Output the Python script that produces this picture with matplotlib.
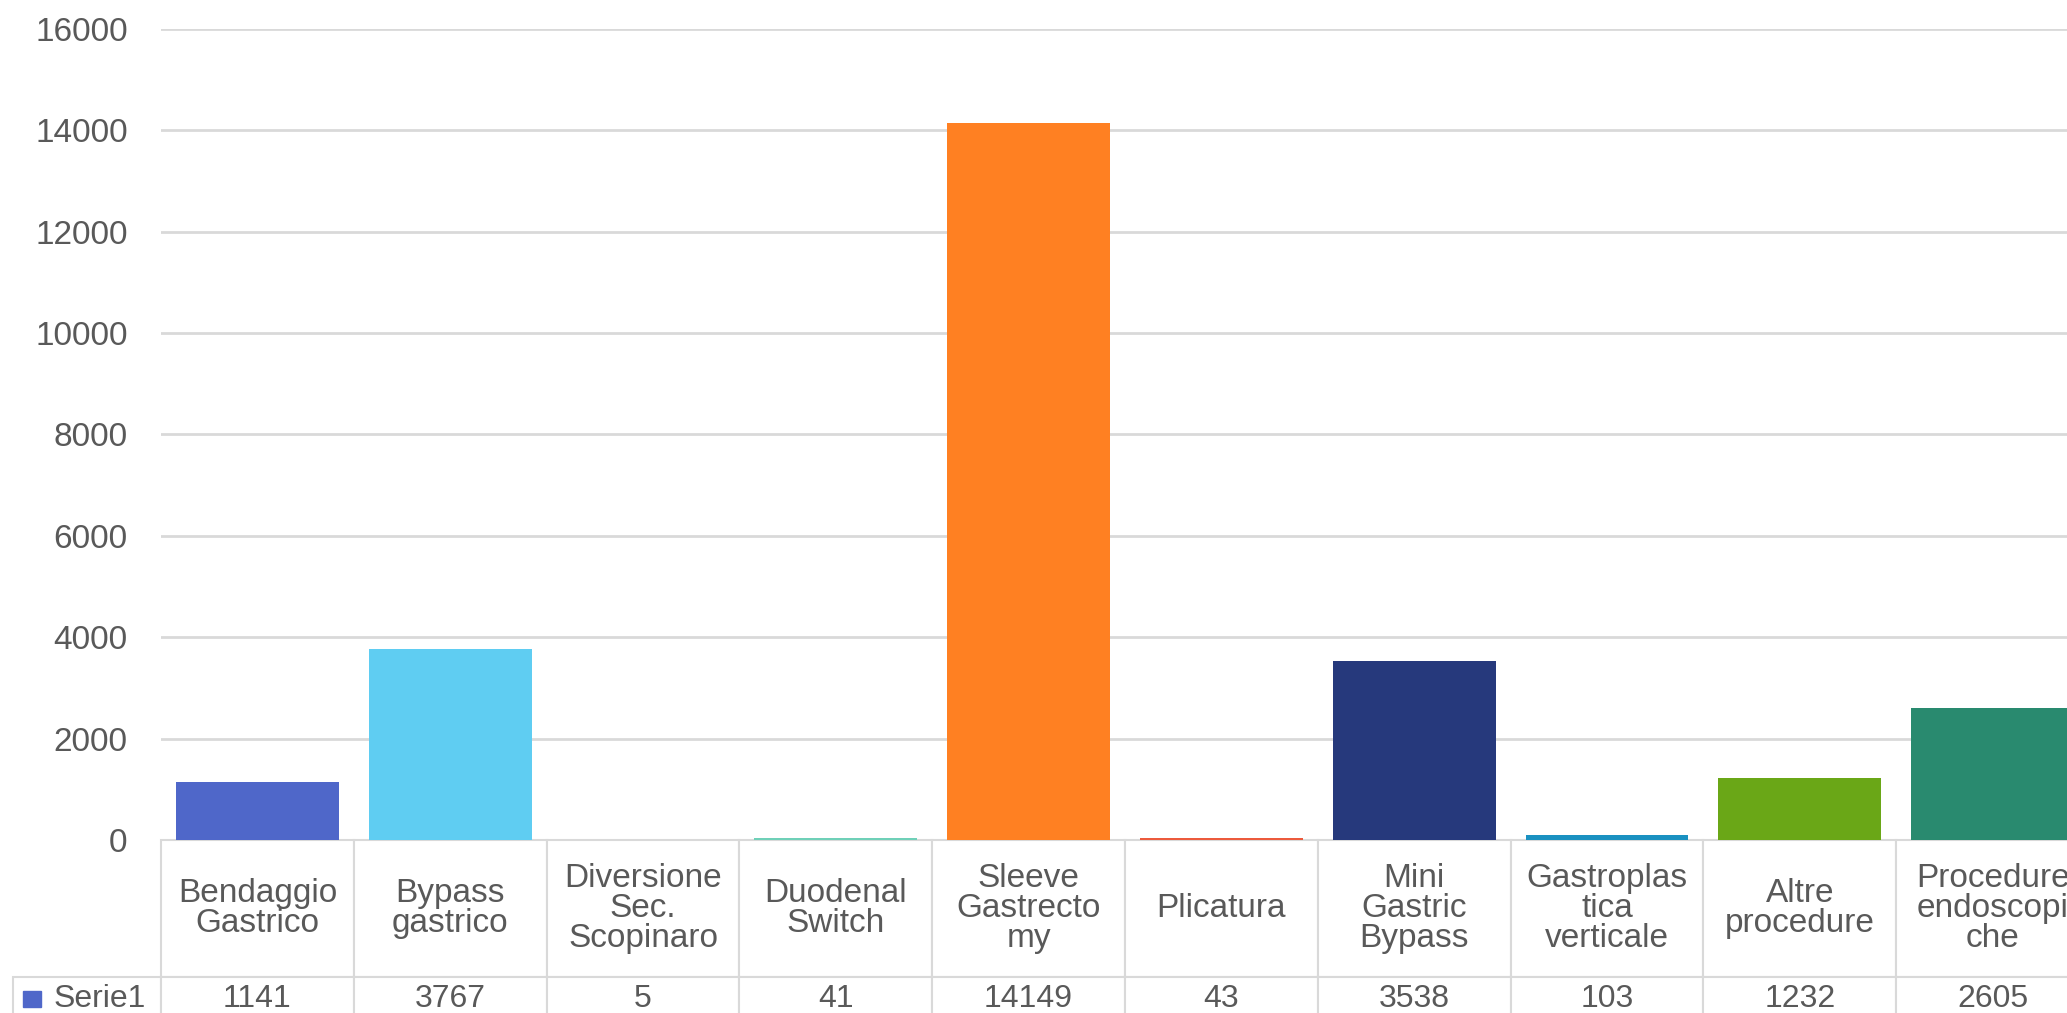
import matplotlib
matplotlib.use('Agg')
import matplotlib.pyplot as plt
from matplotlib.patches import Rectangle
import numpy as np

plt.rcParams['font.family'] = ['Liberation Sans', 'DejaVu Sans']

# bariatric procedures and counts (Serie1)
procedures = ['Bendaggio\nGastrico', 'Bypass\ngastrico', 'Diversione\nSec.\nScopinaro',
              'Duodenal\nSwitch', 'Sleeve\nGastrecto\nmy', 'Plicatura',
              'Mini\nGastric\nBypass', 'Gastroplas\ntica\nverticale',
              'Altre\nprocedure', 'Procedure\nendoscopi\nche']
counts = [1141, 3767, 5, 41, 14149, 43, 3538, 103, 1232, 2605]
series_name = 'Serie1'
bar_colors = ['#4F67C9', '#5FCDF2', '#B5D99C', '#6FD0B8', '#FF8022',
              '#EC5A3C', '#26397C', '#1A91C1', '#6AA717', '#298A6F']
yticks = np.arange(0, 16001, 2000)

text_col = '#595959'
grid_col = '#D9D9D9'

W, H = 2067, 1013
fig = plt.figure(figsize=(W / 100, H / 100), dpi=100)
ax = fig.add_axes([161 / W, (H - 840) / H, 1928 / W, 811 / H])

x = np.arange(len(counts))
ax.bar(x, counts, width=0.845, color=bar_colors, zorder=3)

ax.set_xlim(-0.5, len(counts) - 0.5)
ax.set_ylim(0, 16000)
ax.set_yticks(yticks)
ax.set_xticks([])
ax.yaxis.grid(True, color=grid_col, linewidth=2, zorder=0)
ax.tick_params(axis='y', length=0, pad=24, labelsize=24, labelcolor=text_col)
for s in ax.spines.values():
    s.set_visible(False)

# data table under the bars
label_w = 148 / 1928
head_h, row_h = 137, 44
tbl = ax.table(cellText=[[series_name] + [str(v) for v in counts]],
               colLabels=[''] + procedures,
               colWidths=[label_w] + [0.1] * len(counts),
               cellLoc='center',
               bbox=[-label_w, -(head_h + row_h) / 811, 1 + label_w, (head_h + row_h) / 811])
tbl.auto_set_font_size(False)
for (r, c), cell in tbl.get_celld().items():
    cell.set_height(head_h if r == 0 else row_h)
    cell.set_edgecolor(grid_col)
    cell.set_linewidth(1.5)
    txt = cell.get_text()
    txt.set_color(text_col)
    txt.set_fontsize(24 if r == 0 else 23)
    txt.set_linespacing(0.95)
    if r == 0 and c == 0:
        cell.visible_edges = ''
tbl[1, 0]._loc = 'right'
tbl[1, 0].get_text().set_horizontalalignment('right')

# series key square
fig.patches.append(Rectangle((23 / W, (H - 1007) / H), 18 / W, 16 / H,
                             transform=fig.transFigure, color=bar_colors[0]))

fig.savefig('out.png', dpi=100)
